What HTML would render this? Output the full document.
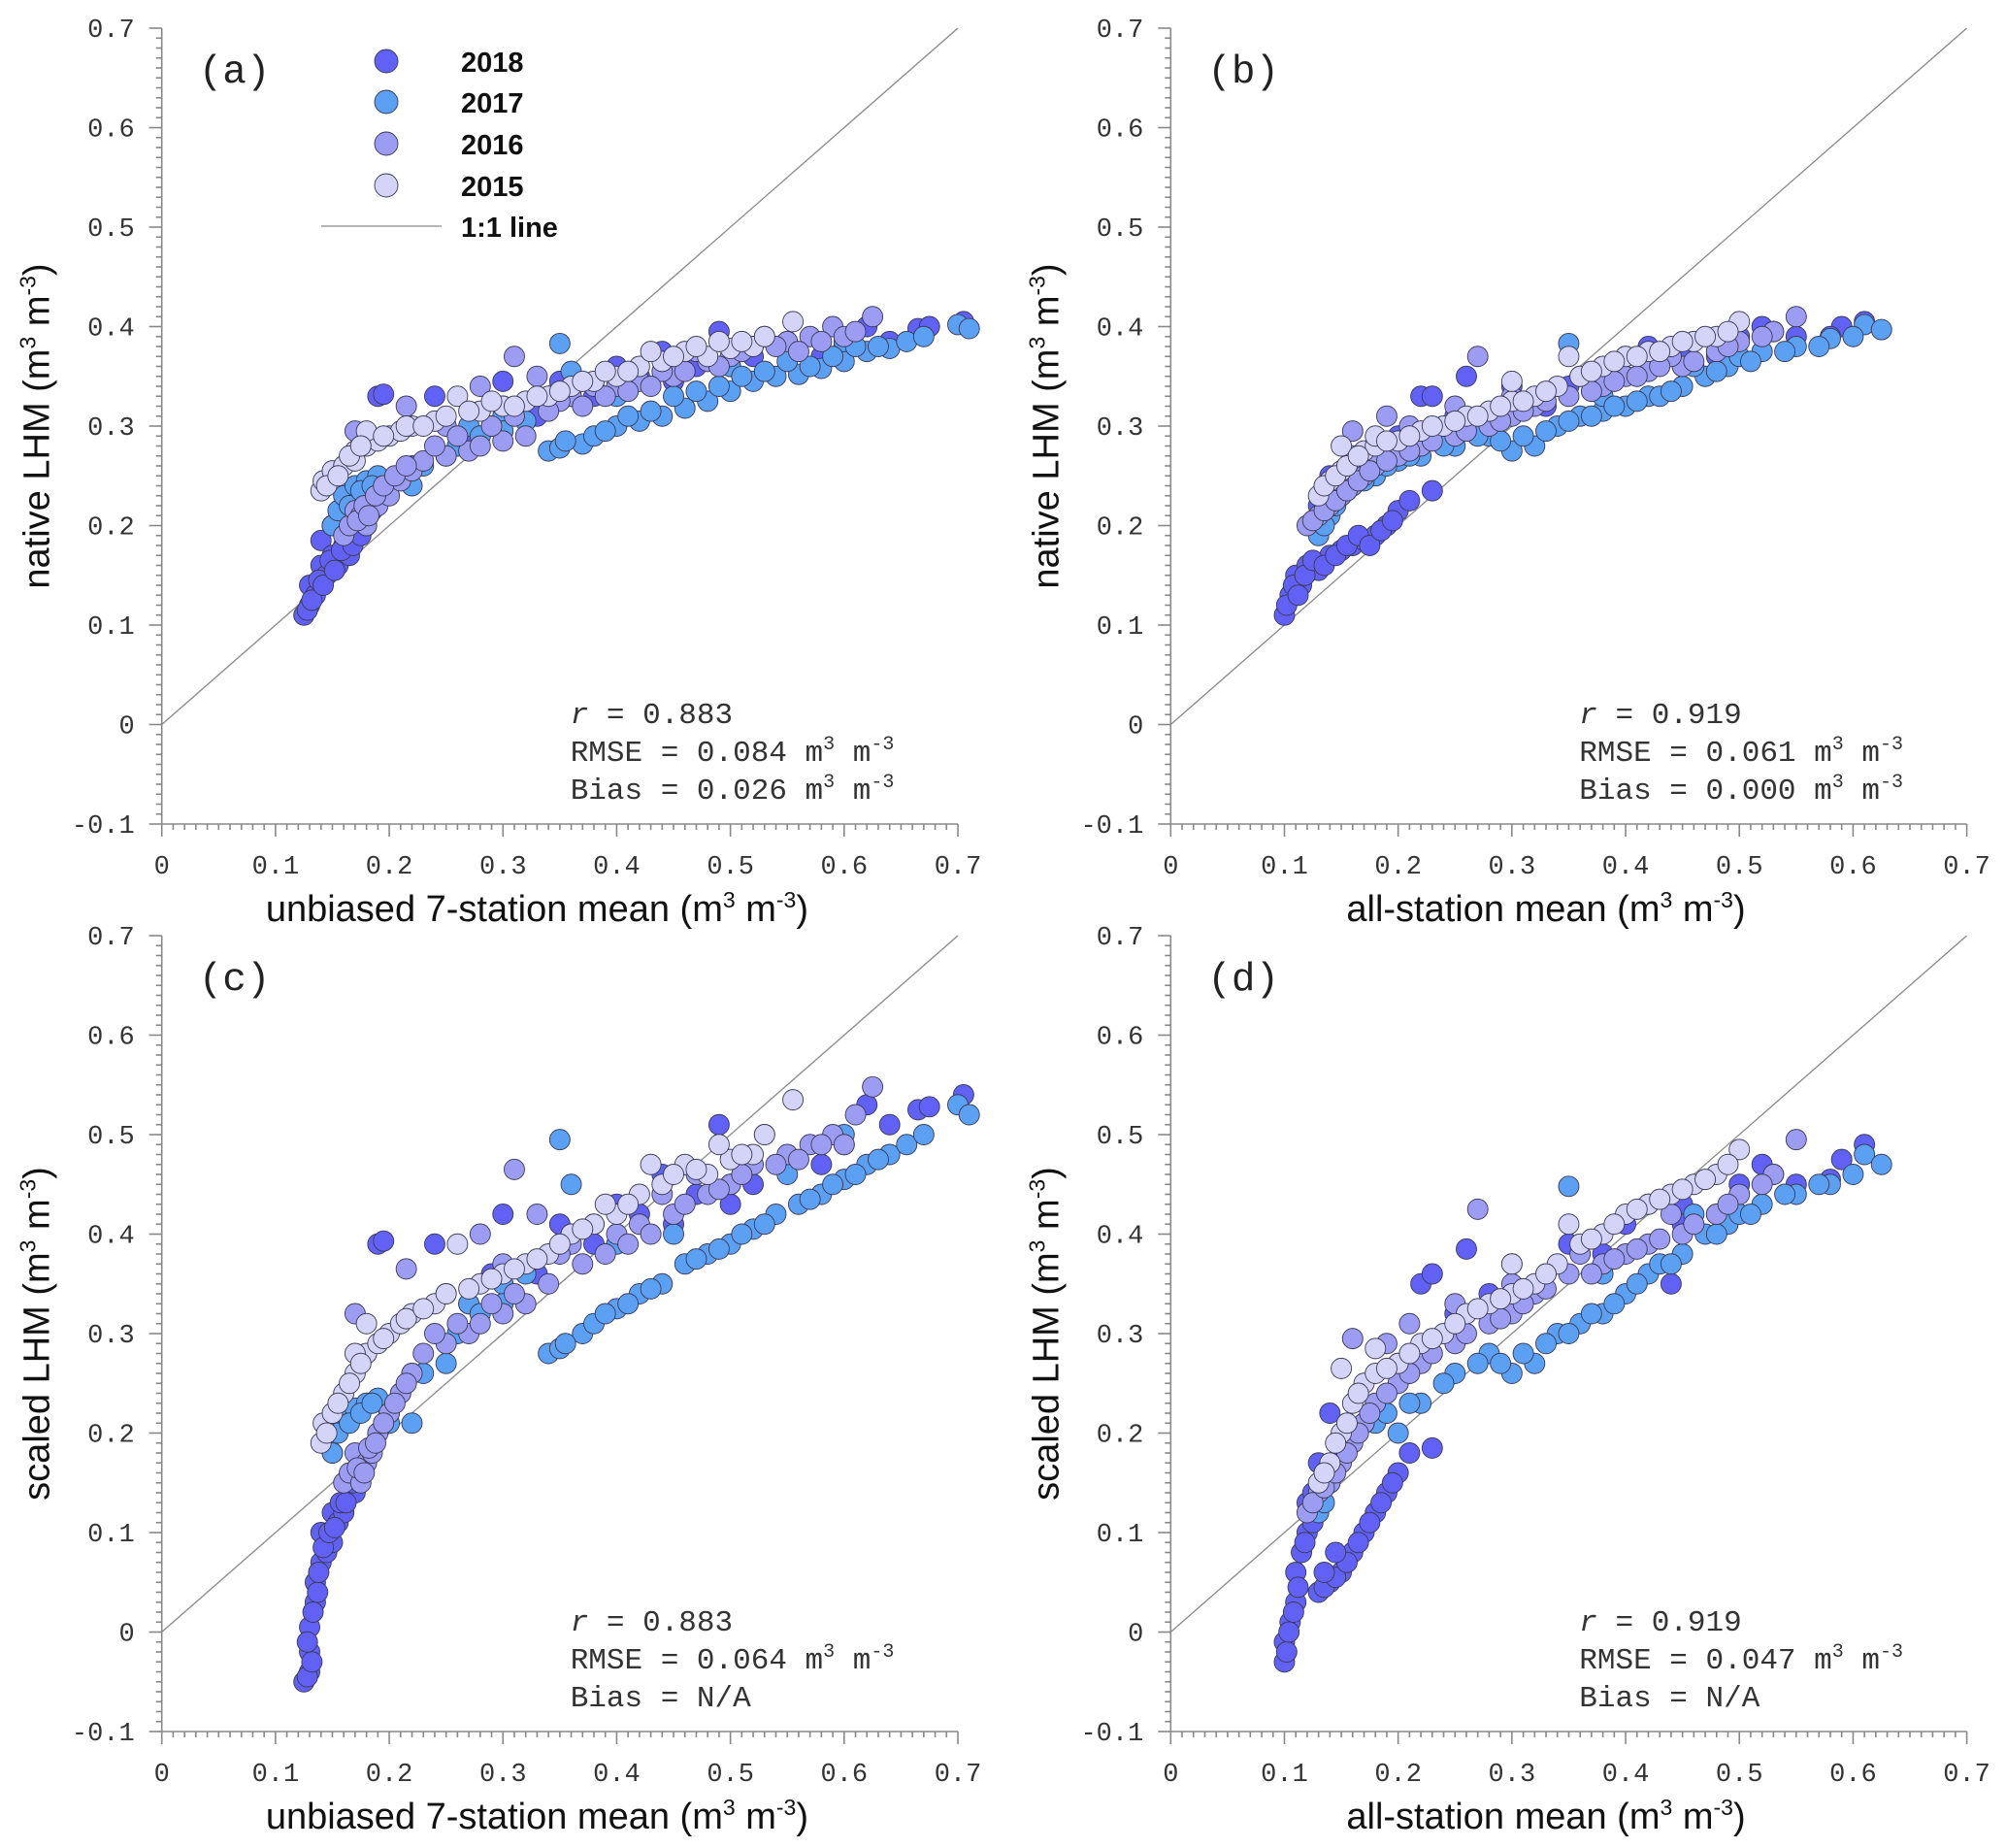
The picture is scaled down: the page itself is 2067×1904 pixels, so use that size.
<!DOCTYPE html>
<html><head><meta charset="utf-8"><style>
html,body{margin:0;padding:0;background:#fff}
svg{display:block}
.tk{font-family:"Liberation Mono",monospace;font-size:27px;fill:#333}
.ttl{font-family:"Liberation Sans",sans-serif;font-size:38px;fill:#111}
.st{font-family:"Liberation Mono",monospace;font-size:31px;fill:#333}
.pl{font-family:"Liberation Mono",monospace;font-size:41px;fill:#222}
.lg{font-family:"Liberation Sans",sans-serif;font-size:29px;fill:#111;font-weight:bold}
</style></head><body>
<svg id="fig" width="2067" height="1904" viewBox="0 0 2067 1904" xmlns="http://www.w3.org/2000/svg"></svg>
<script>
const years=["2018","2017","2016","2015"];
const colors=["#6161f5","#5ba0f3","#9c9cf3","#d4d4f9"];
const xTicks=[0,0.1,0.2,0.3,0.4,0.5,0.6,0.7];
const yTicks=[-0.1,0,0.1,0.2,0.3,0.4,0.5,0.6,0.7];
const xTickLabels=["0","0.1","0.2","0.3","0.4","0.5","0.6","0.7"];
const yTickLabels=["-0.1","0","0.1","0.2","0.3","0.4","0.5","0.6","0.7"];
const panelLetters=["(a)","(b)","(c)","(d)"];
const xTitles=["unbiased 7-station mean","all-station mean","unbiased 7-station mean","all-station mean"];
const yTitles=["native LHM","native LHM","scaled LHM","scaled LHM"];
const rVals=["0.883","0.919","0.883","0.919"];
const rmseVals=["0.084","0.061","0.064","0.047"];
const biasVals=["0.026","0.000","N/A","N/A"];

const a2018=[[0.125,0.11],[0.13,0.12],[0.13,0.14],[0.135,0.13],[0.14,0.16],[0.14,0.185],[0.145,0.15],[0.15,0.17],[0.155,0.16],[0.16,0.18],[0.165,0.17],[0.17,0.19],[0.19,0.33],[0.195,0.332],[0.24,0.33],[0.3,0.345],[0.35,0.345],[0.4,0.36],[0.44,0.375],[0.49,0.395],[0.5,0.36],[0.55,0.385],[0.58,0.37],[0.62,0.40],[0.665,0.398],[0.675,0.4],[0.705,0.405],[0.45,0.345],[0.38,0.33],[0.33,0.31],[0.27,0.29],[0.22,0.26],[0.15,0.2],[0.128,0.115],[0.132,0.125],[0.138,0.145],[0.142,0.14],[0.148,0.165],[0.152,0.155],[0.158,0.175],[0.162,0.2],[0.168,0.18],[0.175,0.19],[0.18,0.2],[0.29,0.3],[0.36,0.33],[0.42,0.35],[0.47,0.36],[0.52,0.37],[0.6,0.38],[0.64,0.385]];
const a2017=[[0.15,0.2],[0.155,0.215],[0.16,0.23],[0.17,0.24],[0.18,0.245],[0.19,0.25],[0.22,0.24],[0.25,0.27],[0.27,0.3],[0.3,0.31],[0.35,0.383],[0.36,0.355],[0.34,0.275],[0.35,0.278],[0.37,0.282],[0.38,0.29],[0.4,0.3],[0.42,0.305],[0.44,0.31],[0.46,0.318],[0.48,0.325],[0.5,0.335],[0.52,0.345],[0.54,0.35],[0.56,0.352],[0.58,0.358],[0.6,0.365],[0.62,0.375],[0.64,0.378],[0.655,0.385],[0.7,0.402],[0.71,0.398],[0.45,0.33],[0.5,0.36],[0.55,0.365],[0.6,0.385],[0.4,0.33],[0.3,0.295],[0.2,0.24],[0.165,0.22],[0.175,0.235],[0.185,0.24],[0.21,0.25],[0.23,0.26],[0.26,0.28],[0.28,0.29],[0.32,0.305],[0.355,0.285],[0.39,0.295],[0.41,0.31],[0.43,0.315],[0.47,0.335],[0.49,0.34],[0.51,0.35],[0.53,0.355],[0.57,0.36],[0.59,0.37],[0.61,0.38],[0.63,0.38],[0.67,0.39]];
const a2016=[[0.16,0.19],[0.165,0.2],[0.17,0.215],[0.175,0.21],[0.18,0.2],[0.185,0.215],[0.19,0.22],[0.2,0.23],[0.21,0.245],[0.22,0.255],[0.23,0.265],[0.25,0.27],[0.27,0.275],[0.28,0.28],[0.3,0.285],[0.32,0.29],[0.17,0.295],[0.215,0.32],[0.31,0.37],[0.28,0.34],[0.33,0.35],[0.36,0.33],[0.4,0.34],[0.42,0.345],[0.45,0.35],[0.48,0.365],[0.5,0.37],[0.52,0.38],[0.55,0.385],[0.57,0.39],[0.59,0.4],[0.6,0.39],[0.625,0.41],[0.61,0.395],[0.25,0.3],[0.3,0.32],[0.35,0.325],[0.38,0.34],[0.44,0.355],[0.47,0.375],[0.53,0.39],[0.172,0.205],[0.178,0.22],[0.182,0.21],[0.188,0.23],[0.195,0.24],[0.205,0.25],[0.215,0.26],[0.24,0.28],[0.26,0.29],[0.29,0.3],[0.31,0.31],[0.34,0.315],[0.37,0.32],[0.39,0.33],[0.41,0.335],[0.43,0.34],[0.46,0.355],[0.49,0.36],[0.51,0.375],[0.54,0.38],[0.56,0.375],[0.58,0.385]];
const a2015=[[0.14,0.235],[0.142,0.245],[0.15,0.255],[0.16,0.26],[0.17,0.275],[0.18,0.28],[0.19,0.285],[0.2,0.29],[0.21,0.295],[0.22,0.3],[0.24,0.305],[0.25,0.31],[0.26,0.33],[0.28,0.315],[0.3,0.32],[0.32,0.325],[0.34,0.33],[0.36,0.34],[0.38,0.345],[0.4,0.35],[0.42,0.36],[0.44,0.365],[0.46,0.375],[0.48,0.37],[0.5,0.378],[0.52,0.38],[0.53,0.39],[0.555,0.405],[0.49,0.385],[0.43,0.375],[0.39,0.355],[0.18,0.295],[0.17,0.265],[0.145,0.24],[0.155,0.25],[0.165,0.27],[0.175,0.28],[0.195,0.29],[0.215,0.3],[0.23,0.3],[0.27,0.315],[0.29,0.325],[0.31,0.32],[0.33,0.33],[0.35,0.335],[0.37,0.345],[0.41,0.355],[0.45,0.37],[0.47,0.38],[0.51,0.385]];

const b2018=[[0.1,0.11],[0.105,0.13],[0.11,0.15],[0.115,0.14],[0.12,0.16],[0.13,0.155],[0.14,0.17],[0.15,0.175],[0.16,0.18],[0.17,0.185],[0.18,0.19],[0.19,0.2],[0.2,0.215],[0.21,0.225],[0.23,0.235],[0.22,0.33],[0.23,0.33],[0.26,0.35],[0.3,0.34],[0.35,0.34],[0.4,0.37],[0.42,0.38],[0.45,0.38],[0.5,0.39],[0.52,0.4],[0.59,0.4],[0.58,0.39],[0.61,0.405],[0.13,0.22],[0.14,0.25],[0.25,0.31],[0.33,0.32],[0.45,0.36],[0.102,0.12],[0.108,0.14],[0.112,0.13],[0.118,0.15],[0.125,0.165],[0.135,0.16],[0.145,0.17],[0.155,0.18],[0.165,0.19],[0.175,0.18],[0.185,0.195],[0.195,0.205],[0.125,0.2],[0.135,0.23],[0.2,0.29],[0.28,0.31],[0.38,0.35],[0.48,0.37],[0.55,0.39]];
const b2017=[[0.13,0.19],[0.14,0.21],[0.15,0.23],[0.16,0.24],[0.18,0.25],[0.2,0.265],[0.22,0.27],[0.25,0.28],[0.28,0.29],[0.3,0.275],[0.32,0.28],[0.35,0.383],[0.34,0.3],[0.36,0.31],[0.38,0.315],[0.4,0.32],[0.42,0.33],[0.43,0.33],[0.45,0.34],[0.47,0.35],[0.49,0.36],[0.5,0.37],[0.52,0.375],[0.55,0.38],[0.58,0.388],[0.61,0.402],[0.625,0.397],[0.53,0.395],[0.46,0.36],[0.38,0.33],[0.135,0.2],[0.145,0.22],[0.155,0.235],[0.17,0.245],[0.19,0.26],[0.21,0.27],[0.24,0.28],[0.27,0.29],[0.29,0.285],[0.31,0.29],[0.33,0.295],[0.35,0.305],[0.37,0.31],[0.39,0.32],[0.41,0.325],[0.44,0.335],[0.48,0.355],[0.51,0.365],[0.54,0.375],[0.57,0.38],[0.6,0.39]];
const b2016=[[0.12,0.2],[0.13,0.21],[0.14,0.22],[0.15,0.23],[0.16,0.24],[0.17,0.25],[0.18,0.26],[0.2,0.27],[0.22,0.28],[0.25,0.29],[0.28,0.3],[0.3,0.31],[0.27,0.37],[0.16,0.295],[0.19,0.31],[0.3,0.33],[0.32,0.32],[0.35,0.33],[0.38,0.34],[0.4,0.35],[0.42,0.355],[0.45,0.36],[0.48,0.375],[0.5,0.385],[0.53,0.395],[0.55,0.41],[0.36,0.35],[0.44,0.37],[0.25,0.32],[0.21,0.3],[0.125,0.205],[0.135,0.215],[0.145,0.225],[0.155,0.235],[0.165,0.245],[0.175,0.255],[0.19,0.265],[0.21,0.275],[0.23,0.285],[0.26,0.295],[0.29,0.305],[0.31,0.315],[0.33,0.325],[0.37,0.335],[0.39,0.345],[0.41,0.35],[0.43,0.36],[0.46,0.365],[0.49,0.38],[0.52,0.39]];
const b2015=[[0.13,0.23],[0.14,0.245],[0.15,0.255],[0.16,0.27],[0.17,0.275],[0.18,0.28],[0.2,0.285],[0.22,0.295],[0.24,0.3],[0.26,0.31],[0.28,0.315],[0.3,0.325],[0.32,0.33],[0.34,0.34],[0.36,0.35],[0.38,0.36],[0.4,0.37],[0.42,0.375],[0.44,0.38],[0.46,0.385],[0.48,0.39],[0.5,0.405],[0.35,0.37],[0.3,0.345],[0.18,0.29],[0.15,0.28],[0.135,0.24],[0.145,0.25],[0.155,0.26],[0.165,0.27],[0.19,0.285],[0.21,0.29],[0.23,0.3],[0.25,0.305],[0.27,0.31],[0.29,0.32],[0.31,0.325],[0.33,0.335],[0.37,0.355],[0.39,0.365],[0.41,0.37],[0.43,0.375],[0.45,0.385],[0.47,0.39],[0.49,0.395]];

const c2018=[[0.125,-0.05],[0.13,-0.04],[0.13,-0.02],[0.13,0.005],[0.135,0.03],[0.135,0.05],[0.14,0.07],[0.14,0.1],[0.145,0.08],[0.15,0.12],[0.15,0.09],[0.155,0.11],[0.16,0.12],[0.165,0.14],[0.17,0.14],[0.19,0.39],[0.195,0.393],[0.24,0.39],[0.3,0.42],[0.35,0.41],[0.4,0.43],[0.44,0.46],[0.49,0.51],[0.5,0.43],[0.55,0.47],[0.58,0.47],[0.62,0.53],[0.665,0.525],[0.675,0.528],[0.705,0.54],[0.45,0.41],[0.38,0.39],[0.33,0.36],[0.27,0.33],[0.22,0.26],[0.15,0.18],[0.128,-0.045],[0.132,-0.03],[0.128,-0.01],[0.133,0.02],[0.137,0.04],[0.138,0.06],[0.142,0.085],[0.147,0.1],[0.152,0.105],[0.157,0.13],[0.162,0.13],[0.168,0.15],[0.175,0.16],[0.18,0.18],[0.2,0.22],[0.29,0.36],[0.36,0.4],[0.42,0.42],[0.47,0.44],[0.52,0.45],[0.6,0.49],[0.64,0.51]];
const c2017=[[0.15,0.18],[0.155,0.2],[0.16,0.22],[0.17,0.225],[0.18,0.23],[0.19,0.235],[0.22,0.21],[0.25,0.27],[0.27,0.33],[0.3,0.35],[0.35,0.495],[0.36,0.45],[0.34,0.28],[0.35,0.285],[0.37,0.3],[0.38,0.31],[0.4,0.325],[0.42,0.34],[0.44,0.35],[0.46,0.37],[0.48,0.38],[0.5,0.39],[0.52,0.405],[0.54,0.42],[0.56,0.43],[0.58,0.44],[0.6,0.455],[0.62,0.47],[0.64,0.48],[0.655,0.49],[0.7,0.53],[0.71,0.52],[0.45,0.4],[0.5,0.45],[0.55,0.46],[0.6,0.5],[0.4,0.39],[0.3,0.33],[0.2,0.21],[0.165,0.21],[0.175,0.22],[0.185,0.23],[0.21,0.24],[0.23,0.26],[0.26,0.3],[0.28,0.32],[0.32,0.36],[0.355,0.29],[0.39,0.32],[0.41,0.33],[0.43,0.345],[0.47,0.375],[0.49,0.385],[0.51,0.4],[0.53,0.41],[0.57,0.435],[0.59,0.45],[0.61,0.46],[0.63,0.475],[0.67,0.5]];
const c2016=[[0.16,0.15],[0.165,0.16],[0.17,0.18],[0.175,0.15],[0.18,0.17],[0.185,0.18],[0.19,0.2],[0.2,0.22],[0.21,0.24],[0.22,0.26],[0.23,0.28],[0.25,0.29],[0.27,0.3],[0.28,0.31],[0.3,0.32],[0.32,0.33],[0.17,0.32],[0.215,0.365],[0.31,0.465],[0.28,0.4],[0.33,0.42],[0.36,0.39],[0.4,0.4],[0.42,0.41],[0.45,0.42],[0.48,0.44],[0.5,0.45],[0.52,0.47],[0.55,0.48],[0.57,0.49],[0.59,0.5],[0.6,0.49],[0.625,0.548],[0.61,0.52],[0.25,0.34],[0.3,0.37],[0.35,0.38],[0.38,0.41],[0.44,0.44],[0.47,0.46],[0.53,0.5],[0.172,0.165],[0.178,0.16],[0.182,0.185],[0.188,0.19],[0.195,0.21],[0.205,0.23],[0.215,0.25],[0.24,0.3],[0.26,0.31],[0.29,0.33],[0.31,0.34],[0.34,0.35],[0.37,0.37],[0.39,0.38],[0.41,0.39],[0.43,0.4],[0.46,0.43],[0.49,0.445],[0.51,0.46],[0.54,0.47],[0.56,0.475],[0.58,0.49]];
const c2015=[[0.14,0.19],[0.142,0.21],[0.15,0.22],[0.16,0.24],[0.17,0.26],[0.18,0.28],[0.19,0.29],[0.2,0.3],[0.21,0.31],[0.22,0.32],[0.24,0.33],[0.25,0.34],[0.26,0.39],[0.28,0.35],[0.3,0.36],[0.32,0.37],[0.34,0.38],[0.36,0.4],[0.38,0.41],[0.4,0.42],[0.42,0.44],[0.44,0.45],[0.46,0.47],[0.48,0.46],[0.5,0.475],[0.52,0.48],[0.53,0.5],[0.555,0.535],[0.49,0.49],[0.43,0.47],[0.39,0.43],[0.18,0.31],[0.17,0.28],[0.145,0.2],[0.155,0.23],[0.165,0.25],[0.175,0.27],[0.195,0.295],[0.215,0.315],[0.23,0.325],[0.27,0.345],[0.29,0.355],[0.31,0.365],[0.33,0.375],[0.35,0.39],[0.37,0.405],[0.41,0.43],[0.45,0.46],[0.47,0.465],[0.51,0.48]];

const d2018=[[0.1,-0.03],[0.1,-0.01],[0.105,0.01],[0.11,0.03],[0.11,0.06],[0.115,0.08],[0.12,0.1],[0.13,0.04],[0.14,0.05],[0.15,0.06],[0.16,0.08],[0.17,0.1],[0.18,0.12],[0.19,0.14],[0.2,0.16],[0.21,0.18],[0.23,0.185],[0.22,0.35],[0.23,0.36],[0.26,0.385],[0.3,0.37],[0.35,0.39],[0.4,0.41],[0.42,0.43],[0.44,0.35],[0.45,0.43],[0.5,0.45],[0.52,0.47],[0.59,0.475],[0.58,0.455],[0.61,0.49],[0.13,0.17],[0.14,0.22],[0.25,0.32],[0.33,0.36],[0.45,0.41],[0.12,0.13],[0.102,-0.02],[0.104,0.0],[0.108,0.02],[0.112,0.045],[0.118,0.09],[0.125,0.11],[0.135,0.045],[0.145,0.055],[0.155,0.07],[0.165,0.09],[0.175,0.11],[0.185,0.13],[0.195,0.15],[0.135,0.06],[0.145,0.08],[0.125,0.14],[0.2,0.27],[0.28,0.34],[0.38,0.38],[0.48,0.42],[0.55,0.45]];
const d2017=[[0.13,0.12],[0.14,0.15],[0.15,0.18],[0.16,0.2],[0.18,0.21],[0.2,0.2],[0.22,0.23],[0.25,0.26],[0.28,0.28],[0.3,0.26],[0.32,0.27],[0.35,0.448],[0.34,0.3],[0.36,0.31],[0.38,0.32],[0.4,0.34],[0.42,0.36],[0.43,0.37],[0.45,0.38],[0.47,0.4],[0.49,0.41],[0.5,0.42],[0.52,0.43],[0.55,0.44],[0.58,0.45],[0.61,0.48],[0.625,0.47],[0.53,0.46],[0.46,0.42],[0.38,0.36],[0.135,0.13],[0.145,0.17],[0.155,0.19],[0.17,0.21],[0.19,0.22],[0.21,0.23],[0.24,0.25],[0.27,0.27],[0.29,0.27],[0.31,0.28],[0.33,0.29],[0.35,0.3],[0.37,0.32],[0.39,0.33],[0.41,0.35],[0.44,0.37],[0.48,0.4],[0.51,0.42],[0.54,0.44],[0.57,0.45],[0.6,0.46]];
const d2016=[[0.12,0.12],[0.13,0.14],[0.14,0.15],[0.15,0.17],[0.16,0.19],[0.17,0.21],[0.18,0.23],[0.2,0.25],[0.22,0.27],[0.25,0.29],[0.28,0.31],[0.3,0.32],[0.27,0.425],[0.16,0.295],[0.19,0.29],[0.3,0.35],[0.32,0.34],[0.35,0.36],[0.38,0.37],[0.4,0.38],[0.42,0.39],[0.45,0.4],[0.48,0.42],[0.5,0.44],[0.53,0.46],[0.55,0.495],[0.36,0.38],[0.44,0.42],[0.25,0.33],[0.21,0.31],[0.125,0.13],[0.135,0.145],[0.145,0.16],[0.155,0.18],[0.165,0.2],[0.175,0.22],[0.19,0.24],[0.21,0.26],[0.23,0.28],[0.26,0.3],[0.29,0.315],[0.31,0.33],[0.33,0.345],[0.37,0.36],[0.39,0.375],[0.41,0.385],[0.43,0.395],[0.46,0.41],[0.49,0.43],[0.52,0.45]];
const d2015=[[0.13,0.15],[0.14,0.17],[0.15,0.2],[0.16,0.23],[0.17,0.25],[0.18,0.26],[0.2,0.27],[0.22,0.29],[0.24,0.3],[0.26,0.32],[0.28,0.33],[0.3,0.34],[0.32,0.35],[0.34,0.37],[0.36,0.39],[0.38,0.4],[0.4,0.42],[0.42,0.43],[0.44,0.44],[0.46,0.45],[0.48,0.46],[0.5,0.485],[0.35,0.41],[0.3,0.37],[0.18,0.285],[0.15,0.265],[0.135,0.16],[0.145,0.19],[0.155,0.21],[0.165,0.24],[0.19,0.265],[0.21,0.28],[0.23,0.295],[0.25,0.31],[0.27,0.325],[0.29,0.335],[0.31,0.345],[0.33,0.36],[0.37,0.395],[0.39,0.41],[0.41,0.425],[0.43,0.435],[0.45,0.445],[0.47,0.455],[0.49,0.47]];

const panelSeries=[[a2018,a2017,a2016,a2015],[b2018,b2017,b2016,b2015],[c2018,c2017,c2016,c2015],[d2018,d2017,d2016,d2015]];

const NS="http://www.w3.org/2000/svg";
const svg=document.getElementById("fig");
function mk(tag,attrs,parent,text){const e=document.createElementNS(NS,tag);for(const k in attrs)e.setAttribute(k,attrs[k]);if(text!==undefined)e.textContent=text;parent.appendChild(e);return e;}
const origins=[[166.7,29],[1206.3,29],[166.7,964],[1206.3,964]];
const PW=820.3,PH=820,XMAX=0.7,YMIN=-0.1,YMAX=0.7;
const unitSup='m<tspan dy="-12" font-size="20">3</tspan><tspan dy="12"> m</tspan><tspan dy="-12" font-size="20">-3</tspan>';

origins.forEach((o,p)=>{
  const g=mk("g",{},svg);
  
  
  const sx=v=>o[0]+v/XMAX*PW;
  const sy=v=>o[1]+(YMAX-v)/(YMAX-YMIN)*PH;
  const ax=mk("g",{stroke:"#888","stroke-width":1.6,fill:"none"},g);
  
  
  mk("line",{x1:sx(0),y1:sy(YMIN),x2:sx(XMAX),y2:sy(YMIN)},ax);
  mk("line",{x1:sx(0),y1:sy(YMIN),x2:sx(0),y2:sy(YMAX)},ax);
  for(let i=0;i<=70;i++){const x=sx(i/100);const maj=i%10===0;mk("line",{x1:x,y1:sy(YMIN),x2:x,y2:sy(YMIN)+(maj?13:6)},ax);}
  for(let i=-10;i<=70;i++){const y=sy(i/100);const maj=i%10===0;mk("line",{x1:sx(0),y1:y,x2:sx(0)-(maj?13:6),y2:y},ax);}
  xTicks.forEach((t,i)=>{const e=mk("text",{x:sx(t),y:sy(YMIN)+51,"text-anchor":"middle",class:"tk"},g,xTickLabels[i]);});
  yTicks.forEach((t,i)=>{const e=mk("text",{x:sx(0)-28,y:sy(t)+9,"text-anchor":"end",class:"tk"},g,yTickLabels[i]);});
  const ol=mk("line",{x1:sx(0),y1:sy(0),x2:sx(XMAX),y2:sy(YMAX),stroke:"#888","stroke-width":1.3},g);
  
  
  panelSeries[p].forEach((ser,si)=>{
    const sg=mk("g",{fill:colors[si],stroke:"#3a3a55","stroke-width":0.9},g);
    
    
    ser.forEach(pt=>{const c=mk("circle",{cx:sx(pt[0]),cy:sy(pt[1]),r:10.5},sg);
      
      });
  });
  const xt=mk("text",{x:sx(0.33),y:sy(YMIN)+100,"text-anchor":"middle",class:"ttl"},g);
  
  
  xt.innerHTML=xTitles[p]+' (m<tspan dy="-14" font-size="23">3</tspan><tspan dy="14"> m</tspan><tspan dy="-14" font-size="23">-3</tspan><tspan dy="14">)</tspan>';
  const cy=(sy(YMAX)+sy(YMIN))/2;
  const yt=mk("text",{x:0,y:0,transform:`translate(${o[0]-116},${cy}) rotate(-90)`,"text-anchor":"middle",class:"ttl"},g);
  
  
  yt.innerHTML=yTitles[p]+' (m<tspan dy="-14" font-size="23">3</tspan><tspan dy="14"> m</tspan><tspan dy="-14" font-size="23">-3</tspan><tspan dy="14">)</tspan>';
  const pl=mk("text",{x:o[0]+38,y:o[1]+56,class:"pl"},g,panelLetters[p]);
  
  
  const stx=o[0]+421, sty=o[1]+716;
  const s1=mk("text",{x:stx,y:sty,class:"st"},g);
  
  
  s1.innerHTML='<tspan font-style="italic">r</tspan> = '+rVals[p];
  const s2=mk("text",{x:stx,y:sty+39,class:"st"},g);
  
  
  s2.innerHTML='RMSE = '+rmseVals[p]+' '+unitSup;
  const s3=mk("text",{x:stx,y:sty+78,class:"st"},g);
  
  
  if(biasVals[p]==="N/A") s3.textContent='Bias = N/A';
  else s3.innerHTML='Bias = '+biasVals[p]+' '+unitSup;
});

const lg=mk("g",{},svg);


const legY=[63,105,148,191];
years.forEach((y,i)=>{
  const e=mk("g",{},lg);
  
  
  mk("circle",{cx:398,cy:legY[i],r:12,fill:colors[i],stroke:"#3a3a55","stroke-width":0.9},e);
  mk("text",{x:475,y:legY[i]+11,class:"lg"},e,y);
});
const le=mk("g",{},lg);


mk("line",{x1:331,y1:233,x2:455,y2:233,stroke:"#888","stroke-width":1.3},le);
mk("text",{x:475,y:244,class:"lg"},le,"1:1 line");
</script>
</body></html>
